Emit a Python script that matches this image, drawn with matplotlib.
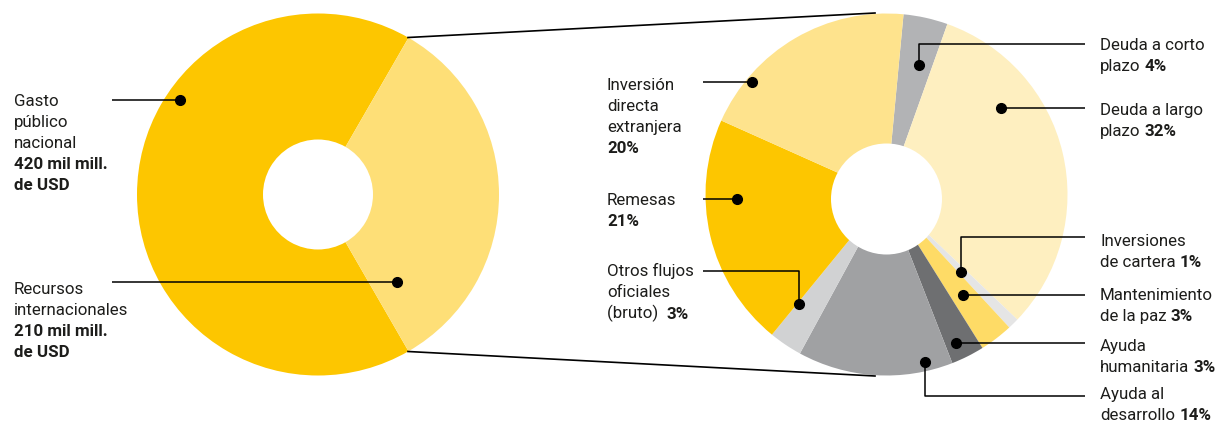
import matplotlib
matplotlib.use('Agg')
import matplotlib.pyplot as plt
from matplotlib.patches import Circle

# ---------------- data ----------------
left_names = ['Gasto\npúblico\nnacional', 'Recursos\ninternacionales']
left_amounts = ['420 mil mill.\nde USD', '210 mil mill.\nde USD']
left_values = [420, 210]

right_names = ['Deuda a corto\nplazo', 'Deuda a largo\nplazo', 'Inversiones\nde cartera',
               'Mantenimiento\nde la paz', 'Ayuda\nhumanitaria', 'Ayuda al\ndesarrollo',
               'Otros flujos\noficiales\n(bruto) ', 'Remesas', 'Inversión\ndirecta\nextranjera']
right_values = [4, 32, 1, 3, 3, 14, 3, 21, 20]

# ---------------- style ----------------
left_colors = ['#FDC600', '#FEDF77']
right_colors = ['#B2B3B5', '#FEEFC0', '#E5E5E5', '#FEDB66', '#6E6F71',
                '#A0A1A3', '#D1D2D3', '#FDC600', '#FEE38D']
TXT = '#1D1D1B'
FS = 12.2
FONT = 'Roboto'

W, H = 1219, 423
fig = plt.figure(figsize=(W / 100, H / 100), dpi=100)
ax = fig.add_axes([0, 0, 1, 1])


def Y(y):
    return H - y


# left donut
ax.pie(left_values, colors=left_colors, startangle=60, counterclock=True,
       center=(318, Y(194.5)), radius=181,
       wedgeprops=dict(width=126, linewidth=0))

# right donut
ax.pie(right_values, colors=right_colors, startangle=84.6, counterclock=False,
       center=(886.5, Y(194.5)), radius=181,
       wedgeprops=dict(linewidth=0))
ax.add_patch(Circle((886.5, Y(199)), 55.5, color='white', lw=0, zorder=5))

ax.set_xlim(0, W)
ax.set_ylim(0, H)
ax.set_aspect('auto')
ax.axis('off')

# connector lines between donuts
ax.plot([408, 875], [Y(37.5), Y(13)], color='black', lw=1.2, zorder=6)
ax.plot([408, 875], [Y(351.5), Y(376)], color='black', lw=1.2, zorder=6)


def draw_label(x, y0, lines):
    """lines: list of lines, each a list of (text, bold)."""
    for i, segs in enumerate(lines):
        y = Y(y0 + i * 21)
        prev = None
        for txt, bold in segs:
            kw = dict(fontsize=FS, fontweight='bold' if bold else 'normal',
                      color=TXT, family=FONT, zorder=7)
            if prev is None:
                prev = ax.text(x, y, txt, va='baseline', ha='left', **kw)
            else:
                prev = ax.annotate(txt, xy=(1, 0), xycoords=prev,
                                   xytext=(3, 0), textcoords='offset points',
                                   va='bottom', ha='left', **kw)


def leader(xs, ys):
    ax.plot(xs, [Y(v) for v in ys], color='black', lw=1.1, zorder=7,
            solid_capstyle='butt')
    ax.plot([xs[-1]], [Y(ys[-1])], 'o', color='black', ms=7, zorder=8)


# left labels
left_layout = [
    dict(x=14, y=106, leader=([112, 180], [100, 100])),
    dict(x=14, y=294, leader=([112, 397], [282, 282])),
]
for name, amt, lay in zip(left_names, left_amounts, left_layout):
    lines = [[(s, False)] for s in name.split('\n')] + \
            [[(s, True)] for s in amt.split('\n')]
    draw_label(lay['x'], lay['y'], lines)
    leader(*lay['leader'])

# right labels
right_layout = [
    dict(x=1100, y=50, inline=True, leader=([1085, 919, 919], [44, 44, 65])),
    dict(x=1100, y=115, inline=True, leader=([1085, 1001], [108, 108])),
    dict(x=1100, y=246, inline=True, leader=([1085, 961, 961], [237, 237, 272])),
    dict(x=1100, y=300, inline=True, leader=([1085, 963], [295, 295])),
    dict(x=1100, y=351, inline=True, leader=([1085, 956], [343, 343])),
    dict(x=1100, y=399, inline=True, leader=([1085, 925, 925], [396, 396, 362])),
    dict(x=607, y=276, inline=True, leader=([703, 799, 799], [271, 271, 304])),
    dict(x=607, y=205, inline=False, leader=([703, 737], [199, 199])),
    dict(x=607, y=90, inline=False, leader=([703, 752], [82, 82])),
]
for name, val, lay in zip(right_names, right_values, right_layout):
    parts = name.split('\n')
    lines = [[(s, False)] for s in parts]
    pct = f'{val}%'
    if lay['inline']:
        lines[-1].append((pct, True))
    else:
        lines.append([(pct, True)])
    draw_label(lay['x'], lay['y'], lines)
    leader(*lay['leader'])

fig.savefig('out.png', dpi=100)
